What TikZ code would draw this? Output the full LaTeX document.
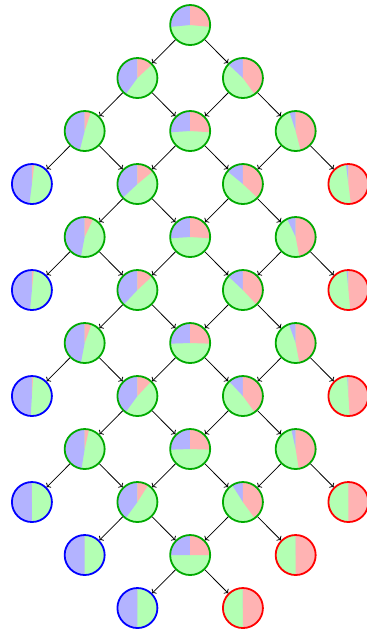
\documentclass[tikz,border=0pt]{standalone}
\usetikzlibrary{arrows.meta}
\definecolor{BlueSoft}{HTML}{B3B3FF}
\definecolor{RedSoft}{HTML}{FFB3B3}
\definecolor{GreenSoft}{HTML}{B3FFB3}
\definecolor{Live}{HTML}{00AA00}
\tikzset{
  state/.style={circle,draw=Live,fill=GreenSoft,line width=1.8pt,minimum size=40pt,inner sep=0pt},
  blueend/.style={state,draw=blue},
  redend/.style={state,draw=red},
  pie/.style 2 args={path picture={
    \fill[BlueSoft] (path picture bounding box.center) -- ++(90:1cm) arc[start angle=90,delta angle=3.6*#1,radius=1cm] -- cycle;
    \fill[RedSoft] (path picture bounding box.center) -- ++(90:1cm) arc[start angle=90,delta angle=-3.6*#2,radius=1cm] -- cycle;}},
  flow/.style={->,draw=black,line width=.75pt}
}
\begin{document}
\begin{tikzpicture}[x=52.75pt,y=53pt]
  \useasboundingbox (-0.605,0.472) rectangle (6.334,-11.509);
  % row 1 to 3
  \node[state,pie={26.5}{26.5}] (n1-3) at (3,0) {};
  \node[state,pie={40}{13}] (n2-2) at (2,-1) {};
  \node[state,pie={13}{40}] (n2-4) at (4,-1) {};
  \node[state,pie={46}{5}] (n3-1) at (1,-2) {};
  \node[state,pie={26}{26}] (n3-3) at (3,-2) {};
  \node[state,pie={5}{46}] (n3-5) at (5,-2) {};
  % row 4 to 6
  \node[blueend,pie={48}{2}] (n4-0) at (0,-3) {};
  \node[state,pie={37}{14}] (n4-2) at (2,-3) {};
  \node[state,pie={14}{37}] (n4-4) at (4,-3) {};
  \node[redend,pie={2}{48}] (n4-6) at (6,-3) {};
  \node[state,pie={47}{7}] (n5-1) at (1,-4) {};
  \node[state,pie={26}{26}] (n5-3) at (3,-4) {};
  \node[state,pie={7}{47}] (n5-5) at (5,-4) {};
  \node[blueend,pie={48.5}{1.5}] (n6-0) at (0,-5) {};
  \node[state,pie={38}{13}] (n6-2) at (2,-5) {};
  \node[state,pie={13}{38}] (n6-4) at (4,-5) {};
  \node[redend,pie={1.5}{48.5}] (n6-6) at (6,-5) {};
  % row 7 to 9
  \node[state,pie={47}{5.5}] (n7-1) at (1,-6) {};
  \node[state,pie={25.5}{25.5}] (n7-3) at (3,-6) {};
  \node[state,pie={5.5}{47}] (n7-5) at (5,-6) {};
  \node[blueend,pie={49}{1}] (n8-0) at (0,-7) {};
  \node[state,pie={40}{12}] (n8-2) at (2,-7) {};
  \node[state,pie={12}{40}] (n8-4) at (4,-7) {};
  \node[redend,pie={1}{49}] (n8-6) at (6,-7) {};
  \node[state,pie={47.5}{3.5}] (n9-1) at (1,-8) {};
  \node[state,pie={25.5}{25.5}] (n9-3) at (3,-8) {};
  \node[state,pie={3.5}{47.5}] (n9-5) at (5,-8) {};
  % row 10 to 12
  \node[blueend,pie={50}{0}] (n10-0) at (0,-9) {};
  \node[state,pie={40}{9}] (n10-2) at (2,-9) {};
  \node[state,pie={9}{40}] (n10-4) at (4,-9) {};
  \node[redend,pie={0}{50}] (n10-6) at (6,-9) {};
  \node[blueend,pie={50}{0}] (n11-1) at (1,-10) {};
  \node[state,pie={25}{25}] (n11-3) at (3,-10) {};
  \node[redend,pie={0}{50}] (n11-5) at (5,-10) {};
  \node[blueend,pie={50}{0}] (n12-2) at (2,-11) {};
  \node[redend,pie={0}{50}] (n12-4) at (4,-11) {};
  % moves
  \foreach \r/\c in {1/3,2/2,2/4,3/1,3/3,3/5,4/2,4/4,5/1,5/3,5/5,6/2,6/4,
                     7/1,7/3,7/5,8/2,8/4,9/1,9/3,9/5,10/2,10/4,11/3}{
    \pgfmathtruncatemacro{\rn}{\r+1}
    \pgfmathtruncatemacro{\cl}{\c-1}
    \pgfmathtruncatemacro{\cr}{\c+1}
    \draw[flow] (n\r-\c) -- (n\rn-\cl);
    \draw[flow] (n\r-\c) -- (n\rn-\cr);
  }
\end{tikzpicture}
\end{document}
